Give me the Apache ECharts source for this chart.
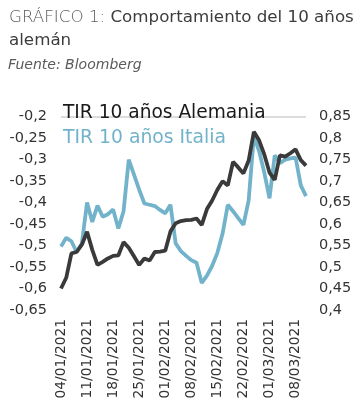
<!DOCTYPE html>
<html><head><meta charset="utf-8">
<script src="https://cdn.jsdelivr.net/npm/echarts@6/dist/echarts.min.js"></script>
<style>html,body{margin:0;padding:0;background:#fff}#c{width:360px;height:408px}</style>
</head><body><div id="c"></div>
<script>
var dates = [
 '04/01/2021','05/01/2021','06/01/2021','07/01/2021','08/01/2021',
 '11/01/2021','12/01/2021','13/01/2021','14/01/2021','15/01/2021',
 '18/01/2021','19/01/2021','20/01/2021','21/01/2021','22/01/2021',
 '25/01/2021','26/01/2021','27/01/2021','28/01/2021','29/01/2021',
 '01/02/2021','02/02/2021','03/02/2021','04/02/2021','05/02/2021',
 '08/02/2021','09/02/2021','10/02/2021','11/02/2021','12/02/2021',
 '15/02/2021','16/02/2021','17/02/2021','18/02/2021','19/02/2021',
 '22/02/2021','23/02/2021','24/02/2021','25/02/2021','26/02/2021',
 '01/03/2021','02/03/2021','03/03/2021','04/03/2021','05/03/2021',
 '08/03/2021','09/03/2021','10/03/2021'
];
var germany = [
 -0.600,-0.575,-0.518,-0.515,-0.498,
 -0.468,-0.510,-0.545,-0.538,-0.530,
 -0.524,-0.523,-0.492,-0.505,-0.525,
 -0.545,-0.530,-0.535,-0.515,-0.514,
 -0.512,-0.467,-0.448,-0.443,-0.441,
 -0.440,-0.437,-0.452,-0.415,-0.395,
 -0.370,-0.350,-0.360,-0.305,-0.318,
 -0.332,-0.302,-0.235,-0.255,-0.288,
 -0.330,-0.347,-0.290,-0.293,-0.285,
 -0.276,-0.301,-0.314
];
var italy = [
 0.548,0.568,0.560,0.535,0.555,
 0.650,0.605,0.643,0.617,0.623,
 0.634,0.590,0.630,0.750,0.715,
 0.680,0.648,0.645,0.642,0.633,
 0.625,0.645,0.555,0.537,0.526,
 0.516,0.510,0.463,0.480,0.503,
 0.533,0.578,0.645,0.630,0.614,
 0.598,0.655,0.805,0.770,0.720,
 0.660,0.760,0.742,0.750,0.753,
 0.755,0.690,0.665
];
var seriesNames = ['TIR 10 años Alemania', 'TIR 10 años Italia'];
var titleMain = 'Comportamiento del 10 años';
var titlePrefix = 'GRÁFICO 1: ';
var titleLine2 = 'alemán';
var sourceText = 'Fuente: Bloomberg';

var FONT = 'DejaVu Sans';
var BLACK = '#3a3a3a';
var BLUE = '#72b3cb';
function fmt(v){ return (Math.round(v*100)/100).toString().replace('.', ','); }
var gridColors = ['transparent','transparent','transparent','transparent','transparent','transparent','transparent','transparent','transparent','#dcdcdc'];

var chart = echarts.init(document.getElementById('c'), null, {renderer:'canvas'});
chart.setOption({
  animation: false,
  backgroundColor: '#fff',
  textStyle: {fontFamily: FONT},
  title: [{
    left: 4, top: 1,
    text: '{a|' + titlePrefix + '}{b|' + titleMain + '}\n{b|' + titleLine2 + '}',
    textStyle: {
      rich: {
        a: {fontFamily: FONT, fontSize: 16.7, color: '#5a5a5a', fontWeight: 300, lineHeight: 23},
        b: {fontFamily: FONT, fontSize: 16.7, color: '#3c3c3c', fontWeight: 500, lineHeight: 23}
      }
    }
  }, {
    left: 3, top: 53,
    text: sourceText,
    textStyle: {fontFamily: FONT, fontSize: 14, fontStyle: 'italic', fontWeight: 'normal', color: '#5a5a5a'}
  }],
  legend: {
    orient: 'vertical', left: 53, top: 99, itemGap: 6,
    icon: 'none', itemWidth: 0, itemHeight: 0,
    selectedMode: false,
    data: [
      {name: seriesNames[0], textStyle: {color: '#1a1a1a', fontSize: 18.6, fontFamily: FONT, fontWeight: 500}},
      {name: seriesNames[1], textStyle: {color: BLUE, fontSize: 18.8, fontFamily: FONT}}
    ]
  },
  grid: {left: 61, right: 54, top: 116.7, bottom: 98, containLabel: false},
  xAxis: {
    type: 'category', data: dates, boundaryGap: false,
    axisLine: {show: false}, axisTick: {show: false},
    axisLabel: {interval: 4, rotate: 90, margin: 9, fontSize: 13.8, color: '#333', fontFamily: FONT}
  },
  yAxis: [{
    type: 'value', min: -0.65, max: -0.2, interval: 0.05, position: 'left',
    axisLine: {show: false}, axisTick: {show: false},
    splitLine: {show: true, lineStyle: {color: gridColors, width: 2}},
    axisLabel: {formatter: fmt, fontSize: 14.5, color: '#333', margin: 14, fontFamily: FONT}
  }, {
    type: 'value', min: 0.4, max: 0.85, interval: 0.05, position: 'right',
    axisLine: {show: false}, axisTick: {show: false}, splitLine: {show: false},
    axisLabel: {formatter: fmt, fontSize: 14.5, color: '#333', margin: 13, fontFamily: FONT}
  }],
  series: [{
    name: seriesNames[0], type: 'line', yAxisIndex: 0, data: germany,
    symbol: 'none', lineStyle: {color: BLACK, width: 3.8}, itemStyle: {color: BLACK}, z: 3
  }, {
    name: seriesNames[1], type: 'line', yAxisIndex: 1, data: italy,
    symbol: 'none', lineStyle: {color: BLUE, width: 3.8}, itemStyle: {color: BLUE}, z: 2
  }]
});
</script></body></html>
